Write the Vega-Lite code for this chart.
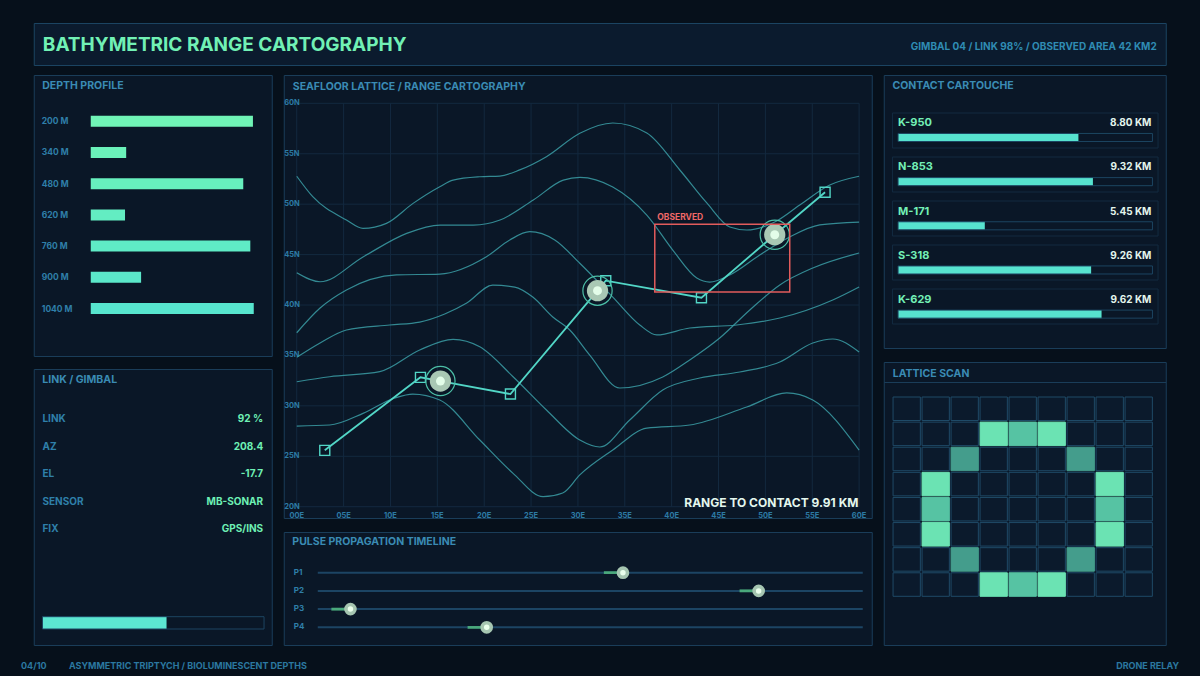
{
  "$schema": "https://vega.github.io/schema/vega-lite/v6.json",
  "background": "#06101b",
  "padding": {"left": 21, "top": 22, "right": 21, "bottom": 4},
  "spacing": 13,
  "center": true,
  "config": {
    "view": {"fill": "#0a1727", "stroke": "#1a3d59", "strokeWidth": 1},
    "font": "Inter",
    "title": {"anchor": "start", "frame": "group", "orient": "top", "baseline": "middle", "font": "Inter", "fontSize": 10.5, "fontWeight": "bold", "color": "#3a8bb4"},
    "axis": {"domain": false, "grid": false, "ticks": false, "labels": false, "title": null},
    "text": {"font": "Inter", "fontWeight": "bold"}
  },
  "datasets": {
    "header": [
      {"role": "title", "text": "BATHYMETRIC RANGE CARTOGRAPHY"},
      {"role": "meta", "text": "GIMBAL 04 / LINK 98% / OBSERVED AREA 42 KM2"}
    ],
    "footer": [
      {"slot": "page", "text": "04/10"},
      {"slot": "caption", "text": "ASYMMETRIC TRIPTYCH / BIOLUMINESCENT DEPTHS"},
      {"slot": "relay", "text": "DRONE RELAY"}
    ],
    "depth": [
      {"depth": "200 M", "level": 98.9},
      {"depth": "340 M", "level": 21.6},
      {"depth": "480 M", "level": 93.0},
      {"depth": "620 M", "level": 20.9},
      {"depth": "760 M", "level": 97.3},
      {"depth": "900 M", "level": 30.7},
      {"depth": "1040 M", "level": 99.4}
    ],
    "gimbal": [
      {"metric": "LINK", "reading": "92 %"},
      {"metric": "AZ", "reading": "208.4"},
      {"metric": "EL", "reading": "-17.7"},
      {"metric": "SENSOR", "reading": "MB-SONAR"},
      {"metric": "FIX", "reading": "GPS/INS"}
    ],
    "linkGauge": [{"gauge": "LINK", "level": 56}],
    "contacts": [
      {"id": "K-950", "range": "8.80 KM", "signal": 70.9},
      {"id": "N-853", "range": "9.32 KM", "signal": 76.6},
      {"id": "M-171", "range": "5.45 KM", "signal": 34.1},
      {"id": "S-318", "range": "9.26 KM", "signal": 75.9},
      {"id": "K-629", "range": "9.62 KM", "signal": 80.0}
    ],
    "pulses": [
      {"pulse": "P1", "start": 52.5, "t": 56.0},
      {"pulse": "P2", "start": 77.4, "t": 80.9},
      {"pulse": "P3", "start": 2.5, "t": 6.0},
      {"pulse": "P4", "start": 27.5, "t": 31.0}
    ],
    "lonGrid": [{"lon": 0, "tag": "00E"}, {"lon": 5, "tag": "05E"}, {"lon": 10, "tag": "10E"}, {"lon": 15, "tag": "15E"}, {"lon": 20, "tag": "20E"}, {"lon": 25, "tag": "25E"}, {"lon": 30, "tag": "30E"}, {"lon": 35, "tag": "35E"}, {"lon": 40, "tag": "40E"}, {"lon": 45, "tag": "45E"}, {"lon": 50, "tag": "50E"}, {"lon": 55, "tag": "55E"}, {"lon": 60, "tag": "60E"}],
    "latGrid": [{"lat": 20, "tag": "20N"}, {"lat": 25, "tag": "25N"}, {"lat": 30, "tag": "30N"}, {"lat": 35, "tag": "35N"}, {"lat": 40, "tag": "40N"}, {"lat": 45, "tag": "45N"}, {"lat": 50, "tag": "50N"}, {"lat": 55, "tag": "55N"}, {"lat": 60, "tag": "60N"}],
    "track": [
      {"seq": 1, "kind": "fix", "lon": 2.99, "lat": 25.59},
      {"seq": 2, "kind": "fix", "lon": 13.2, "lat": 32.83},
      {"seq": 3, "kind": "contact", "lon": 15.33, "lat": 32.46},
      {"seq": 4, "kind": "fix", "lon": 22.8, "lat": 31.17},
      {"seq": 5, "kind": "contact", "lon": 32.09, "lat": 41.42},
      {"seq": 6, "kind": "fix", "lon": 32.97, "lat": 42.41},
      {"seq": 7, "kind": "fix", "lon": 43.18, "lat": 40.72},
      {"seq": 8, "kind": "contact", "lon": 51.0, "lat": 46.97},
      {"seq": 9, "kind": "fix", "lon": 56.37, "lat": 51.18}
    ],
    "observed": [{"lon1": 38.2, "lon2": 52.6, "lat1": 41.3, "lat2": 48.0, "label": "OBSERVED"}],
    "rangeNote": [{"label": "RANGE TO CONTACT 9.91 KM"}],
    "contours": [
      {"curve": "c1", "lon": 0, "lat": 52.77}, {"curve": "c1", "lon": 1.71, "lat": 50.74}, {"curve": "c1", "lon": 5.3, "lat": 48.43}, {"curve": "c1", "lon": 7.07, "lat": 47.6}, {"curve": "c1", "lon": 9.57, "lat": 48.1}, {"curve": "c1", "lon": 12.41, "lat": 50.08}, {"curve": "c1", "lon": 15.26, "lat": 51.73}, {"curve": "c1", "lon": 16.68, "lat": 52.39}, {"curve": "c1", "lon": 19.53, "lat": 52.72}, {"curve": "c1", "lon": 21.66, "lat": 52.79}, {"curve": "c1", "lon": 23.79, "lat": 53.4}, {"curve": "c1", "lon": 26.64, "lat": 54.71}, {"curve": "c1", "lon": 30.2, "lat": 57.03}, {"curve": "c1", "lon": 33.72, "lat": 58.05}, {"curve": "c1", "lon": 37.35, "lat": 57.06}, {"curve": "c1", "lon": 40.87, "lat": 53.39}, {"curve": "c1", "lon": 43.75, "lat": 50.12}, {"curve": "c1", "lon": 46.2, "lat": 47.74}, {"curve": "c1", "lon": 48.02, "lat": 47.44}, {"curve": "c1", "lon": 51.0, "lat": 48.23}, {"curve": "c1", "lon": 53.67, "lat": 49.92}, {"curve": "c1", "lon": 56.87, "lat": 51.9}, {"curve": "c1", "lon": 60, "lat": 52.77},
      {"curve": "c2", "lon": 0, "lat": 43.2}, {"curve": "c2", "lon": 2.49, "lat": 42.31}, {"curve": "c2", "lon": 7.11, "lat": 44.79}, {"curve": "c2", "lon": 11.73, "lat": 47.11}, {"curve": "c2", "lon": 15.29, "lat": 47.93}, {"curve": "c2", "lon": 18.84, "lat": 47.93}, {"curve": "c2", "lon": 21.69, "lat": 48.43}, {"curve": "c2", "lon": 25.24, "lat": 50.41}, {"curve": "c2", "lon": 28.44, "lat": 52.39}, {"curve": "c2", "lon": 30.22, "lat": 52.66}, {"curve": "c2", "lon": 33.72, "lat": 51.7}, {"curve": "c2", "lon": 37.35, "lat": 48.92}, {"curve": "c2", "lon": 40.12, "lat": 45.45}, {"curve": "c2", "lon": 42.68, "lat": 42.68}, {"curve": "c2", "lon": 44.07, "lat": 42.28}, {"curve": "c2", "lon": 46.2, "lat": 42.98}, {"curve": "c2", "lon": 49.4, "lat": 44.96}, {"curve": "c2", "lon": 52.6, "lat": 46.75}, {"curve": "c2", "lon": 55.8, "lat": 47.94}, {"curve": "c2", "lon": 60, "lat": 48.23},
      {"curve": "c3", "lon": 0, "lat": 37.25}, {"curve": "c3", "lon": 2.49, "lat": 39.7}, {"curve": "c3", "lon": 5.3, "lat": 41.49}, {"curve": "c3", "lon": 10.64, "lat": 42.98}, {"curve": "c3", "lon": 15.26, "lat": 43.07}, {"curve": "c3", "lon": 20.24, "lat": 44.79}, {"curve": "c3", "lon": 22.73, "lat": 46.45}, {"curve": "c3", "lon": 24.86, "lat": 47.27}, {"curve": "c3", "lon": 27.53, "lat": 46.45}, {"curve": "c3", "lon": 30.2, "lat": 44.14}, {"curve": "c3", "lon": 33.72, "lat": 40.79}, {"curve": "c3", "lon": 36.6, "lat": 38.02}, {"curve": "c3", "lon": 38.41, "lat": 37.03}, {"curve": "c3", "lon": 41.93, "lat": 37.72}, {"curve": "c3", "lon": 46.95, "lat": 38.02}, {"curve": "c3", "lon": 51.54, "lat": 38.71}, {"curve": "c3", "lon": 57.19, "lat": 40.5}, {"curve": "c3", "lon": 60, "lat": 41.79},
      {"curve": "c4", "lon": 0, "lat": 34.81}, {"curve": "c4", "lon": 2.49, "lat": 36.23}, {"curve": "c4", "lon": 5.3, "lat": 37.52}, {"curve": "c4", "lon": 9.92, "lat": 38.02}, {"curve": "c4", "lon": 13.12, "lat": 38.31}, {"curve": "c4", "lon": 15.79, "lat": 39.11}, {"curve": "c4", "lon": 18.14, "lat": 40.2}, {"curve": "c4", "lon": 20.91, "lat": 41.98}, {"curve": "c4", "lon": 23.26, "lat": 41.78}, {"curve": "c4", "lon": 25.18, "lat": 40.79}, {"curve": "c4", "lon": 27.32, "lat": 38.81}, {"curve": "c4", "lon": 29.13, "lat": 37.52}, {"curve": "c4", "lon": 31.26, "lat": 35.04}, {"curve": "c4", "lon": 34.46, "lat": 31.77}, {"curve": "c4", "lon": 39.05, "lat": 32.86}, {"curve": "c4", "lon": 41.93, "lat": 34.55}, {"curve": "c4", "lon": 45.13, "lat": 36.73}, {"curve": "c4", "lon": 48.34, "lat": 39.51}, {"curve": "c4", "lon": 51.54, "lat": 41.99}, {"curve": "c4", "lon": 55.06, "lat": 43.67}, {"curve": "c4", "lon": 60, "lat": 45.16},
      {"curve": "c5", "lon": 0, "lat": 32.39}, {"curve": "c5", "lon": 3.52, "lat": 32.89}, {"curve": "c5", "lon": 8.86, "lat": 33.39}, {"curve": "c5", "lon": 13.12, "lat": 35.54}, {"curve": "c5", "lon": 16.68, "lat": 36.6}, {"curve": "c5", "lon": 19.53, "lat": 35.86}, {"curve": "c5", "lon": 23.08, "lat": 32.89}, {"curve": "c5", "lon": 26.64, "lat": 29.59}, {"curve": "c5", "lon": 30.2, "lat": 26.61}, {"curve": "c5", "lon": 32.33, "lat": 25.92}, {"curve": "c5", "lon": 35.53, "lat": 28.6}, {"curve": "c5", "lon": 39.05, "lat": 31.57}, {"curve": "c5", "lon": 43.0, "lat": 32.76}, {"curve": "c5", "lon": 47.27, "lat": 33.36}, {"curve": "c5", "lon": 51.54, "lat": 34.35}, {"curve": "c5", "lon": 55.06, "lat": 36.23}, {"curve": "c5", "lon": 57.19, "lat": 36.63}, {"curve": "c5", "lon": 60, "lat": 35.34},
      {"curve": "c6", "lon": 0, "lat": 28.0}, {"curve": "c6", "lon": 3.52, "lat": 28.1}, {"curve": "c6", "lon": 7.07, "lat": 29.26}, {"curve": "c6", "lon": 10.46, "lat": 30.78}, {"curve": "c6", "lon": 12.38, "lat": 31.17}, {"curve": "c6", "lon": 15.26, "lat": 30.58}, {"curve": "c6", "lon": 19.53, "lat": 26.61}, {"curve": "c6", "lon": 23.08, "lat": 23.31}, {"curve": "c6", "lon": 26.28, "lat": 20.99}, {"curve": "c6", "lon": 28.38, "lat": 21.36}, {"curve": "c6", "lon": 30.2, "lat": 23.15}, {"curve": "c6", "lon": 33.72, "lat": 25.62}, {"curve": "c6", "lon": 37.35, "lat": 27.8}, {"curve": "c6", "lon": 41.93, "lat": 28.1}, {"curve": "c6", "lon": 48.01, "lat": 29.89}, {"curve": "c6", "lon": 52.28, "lat": 31.28}, {"curve": "c6", "lon": 55.06, "lat": 30.58}, {"curve": "c6", "lon": 60, "lat": 25.62}
    ],
    "lattice": [
      {"r": 0, "c": 0, "v": 0}, {"r": 0, "c": 1, "v": 0}, {"r": 0, "c": 2, "v": 0}, {"r": 0, "c": 3, "v": 0}, {"r": 0, "c": 4, "v": 0}, {"r": 0, "c": 5, "v": 0}, {"r": 0, "c": 6, "v": 0}, {"r": 0, "c": 7, "v": 0}, {"r": 0, "c": 8, "v": 0},
      {"r": 1, "c": 0, "v": 0}, {"r": 1, "c": 1, "v": 0}, {"r": 1, "c": 2, "v": 0}, {"r": 1, "c": 3, "v": 3}, {"r": 1, "c": 4, "v": 2}, {"r": 1, "c": 5, "v": 3}, {"r": 1, "c": 6, "v": 0}, {"r": 1, "c": 7, "v": 0}, {"r": 1, "c": 8, "v": 0},
      {"r": 2, "c": 0, "v": 0}, {"r": 2, "c": 1, "v": 0}, {"r": 2, "c": 2, "v": 1}, {"r": 2, "c": 3, "v": 0}, {"r": 2, "c": 4, "v": 0}, {"r": 2, "c": 5, "v": 0}, {"r": 2, "c": 6, "v": 1}, {"r": 2, "c": 7, "v": 0}, {"r": 2, "c": 8, "v": 0},
      {"r": 3, "c": 0, "v": 0}, {"r": 3, "c": 1, "v": 3}, {"r": 3, "c": 2, "v": 0}, {"r": 3, "c": 3, "v": 0}, {"r": 3, "c": 4, "v": 0}, {"r": 3, "c": 5, "v": 0}, {"r": 3, "c": 6, "v": 0}, {"r": 3, "c": 7, "v": 3}, {"r": 3, "c": 8, "v": 0},
      {"r": 4, "c": 0, "v": 0}, {"r": 4, "c": 1, "v": 2}, {"r": 4, "c": 2, "v": 0}, {"r": 4, "c": 3, "v": 0}, {"r": 4, "c": 4, "v": 0}, {"r": 4, "c": 5, "v": 0}, {"r": 4, "c": 6, "v": 0}, {"r": 4, "c": 7, "v": 2}, {"r": 4, "c": 8, "v": 0},
      {"r": 5, "c": 0, "v": 0}, {"r": 5, "c": 1, "v": 3}, {"r": 5, "c": 2, "v": 0}, {"r": 5, "c": 3, "v": 0}, {"r": 5, "c": 4, "v": 0}, {"r": 5, "c": 5, "v": 0}, {"r": 5, "c": 6, "v": 0}, {"r": 5, "c": 7, "v": 3}, {"r": 5, "c": 8, "v": 0},
      {"r": 6, "c": 0, "v": 0}, {"r": 6, "c": 1, "v": 0}, {"r": 6, "c": 2, "v": 1}, {"r": 6, "c": 3, "v": 0}, {"r": 6, "c": 4, "v": 0}, {"r": 6, "c": 5, "v": 0}, {"r": 6, "c": 6, "v": 1}, {"r": 6, "c": 7, "v": 0}, {"r": 6, "c": 8, "v": 0},
      {"r": 7, "c": 0, "v": 0}, {"r": 7, "c": 1, "v": 0}, {"r": 7, "c": 2, "v": 0}, {"r": 7, "c": 3, "v": 3}, {"r": 7, "c": 4, "v": 2}, {"r": 7, "c": 5, "v": 3}, {"r": 7, "c": 6, "v": 0}, {"r": 7, "c": 7, "v": 0}, {"r": 7, "c": 8, "v": 0}
    ]
  },
  "vconcat": [
    {
      "spacing": 8,
      "vconcat": [
        {
          "width": 1132,
          "height": 42,
          "view": {"fill": "#0b1b2e", "stroke": "#1b4462"},
          "data": {"name": "header"},
          "layer": [
            {
              "transform": [{"filter": "datum.role == 'title'"}],
              "mark": {"type": "text", "align": "left", "baseline": "middle", "fontSize": 19, "fill": "#71f1b5", "dy": 1},
              "encoding": {
                "x": {"datum": 0.8, "type": "quantitative", "scale": {"domain": [0, 100], "nice": false, "zero": false}, "axis": null},
                "text": {"field": "text"}
              }
            },
            {
              "transform": [{"filter": "datum.role == 'meta'"}],
              "mark": {"type": "text", "align": "right", "baseline": "middle", "fontSize": 10, "fill": "#2f8cb3", "dy": 3},
              "encoding": {
                "x": {"datum": 99.2, "type": "quantitative", "axis": null},
                "text": {"field": "text"}
              }
            }
          ]
        },
        {
          "spacing": 10,
          "hconcat": [
            {
              "spacing": 13,
              "bounds": "flush",
              "vconcat": [
                {
                  "width": 238,
                  "height": 281,
                  "title": {"text": "DEPTH PROFILE", "offset": -16, "dx": 8.5},
                  "data": {"name": "depth"},
                  "layer": [
                    {
                      "mark": {"type": "bar", "height": 11},
                      "encoding": {
                        "y": {"field": "depth", "type": "nominal", "sort": null, "axis": null, "scale": {"type": "band", "paddingInner": 0, "paddingOuter": 1, "align": 0.49}},
                        "x": {"field": "level", "type": "quantitative", "scale": {"domain": [-34.76, 110.37], "nice": false, "zero": false}, "axis": {"orient": "top", "offset": -19, "domain": true, "domainColor": "#1a3d59", "domainWidth": 1, "title": null}},
                        "x2": {"datum": 0},
                        "color": {"field": "depth", "type": "nominal", "sort": null, "legend": null, "scale": {"range": ["#70f4b6", "#6bf2ba", "#67f0be", "#63edc2", "#5febc6", "#5be8ca", "#57e5ce"]}}
                      }
                    },
                    {
                      "mark": {"type": "text", "align": "left", "baseline": "middle", "fontSize": 8.5, "fill": "#2f7fa9"},
                      "encoding": {
                        "y": {"field": "depth", "type": "nominal", "sort": null, "axis": null},
                        "x": {"datum": -29.9, "type": "quantitative", "axis": null},
                        "text": {"field": "depth"}
                      }
                    }
                  ]
                },
                {
                  "width": 238,
                  "height": 276,
                  "title": {"text": "LINK / GIMBAL", "offset": -16, "dx": 8.5},
                  "resolve": {"scale": {"y": "independent"}},
                  "layer": [
                    {
                      "data": {"name": "linkGauge"},
                      "mark": {"type": "bar", "fill": "#5ce6d2"},
                      "encoding": {
                        "y": {"field": "gauge", "type": "nominal", "axis": null, "scale": {"type": "band", "range": [247.7, 260], "paddingInner": 0, "paddingOuter": 0}},
                        "x": {"field": "level", "type": "quantitative", "scale": {"domain": [-3.93, 103.48], "nice": false, "zero": false}, "axis": {"orient": "top", "offset": -20, "domain": true, "domainColor": "#1a3d59", "title": null}},
                        "x2": {"datum": 0}
                      }
                    },
                    {
                      "data": {"name": "linkGauge"},
                      "mark": {"type": "bar", "fill": "#081525", "fillOpacity": 0, "stroke": "#1d4562", "strokeWidth": 1},
                      "encoding": {
                        "y": {"field": "gauge", "type": "nominal", "axis": null, "scale": {"type": "band", "range": [247.7, 260], "paddingInner": 0, "paddingOuter": 0}},
                        "x": {"datum": 0, "type": "quantitative", "axis": null},
                        "x2": {"datum": 100}
                      }
                    },
                    {
                      "data": {"name": "gimbal"},
                      "mark": {"type": "text", "align": "left", "baseline": "middle", "fontSize": 10, "fill": "#2f80aa"},
                      "encoding": {
                        "y": {"field": "metric", "type": "nominal", "sort": null, "axis": null, "scale": {"type": "point", "range": [50.3, 160], "padding": 0}},
                        "x": {"datum": 0, "type": "quantitative", "axis": null},
                        "text": {"field": "metric"}
                      }
                    },
                    {
                      "data": {"name": "gimbal"},
                      "mark": {"type": "text", "align": "right", "baseline": "middle", "fontSize": 10, "fill": "#6ef0b5"},
                      "encoding": {
                        "y": {"field": "metric", "type": "nominal", "sort": null, "axis": null, "scale": {"type": "point", "range": [50.3, 160], "padding": 0}},
                        "x": {"datum": 99.6, "type": "quantitative", "axis": null},
                        "text": {"field": "reading"}
                      }
                    }
                  ]
                }
              ]
            },
            {
              "spacing": 14,
              "bounds": "flush",
              "vconcat": [
                {
                  "width": 588,
                  "height": 443,
                  "title": {"text": "SEAFLOOR LATTICE / RANGE CARTOGRAPHY", "offset": -17, "dx": 9},
                  "layer": [
                    {
                      "data": {"name": "latGrid"},
                      "mark": {"type": "rule", "stroke": "#13293f", "strokeWidth": 1},
                      "encoding": {
                        "y": {"field": "lat", "type": "quantitative", "scale": {"domain": [18.88, 62.81], "nice": false, "zero": false}, "axis": null},
                        "x": {"datum": 0, "type": "quantitative", "scale": {"domain": [-1.387, 61.35], "nice": false, "zero": false}, "axis": null},
                        "x2": {"datum": 60}
                      }
                    },
                    {
                      "data": {"name": "lonGrid"},
                      "mark": {"type": "rule", "stroke": "#13293f", "strokeWidth": 1},
                      "encoding": {
                        "x": {"field": "lon", "type": "quantitative", "axis": null},
                        "y": {"datum": 20, "type": "quantitative", "axis": null},
                        "y2": {"datum": 60}
                      }
                    },
                    {
                      "data": {"name": "latGrid"},
                      "mark": {"type": "text", "align": "left", "baseline": "middle", "fontSize": 7.5, "fill": "#2d7ba5"},
                      "encoding": {
                        "y": {"field": "lat", "type": "quantitative", "axis": null},
                        "x": {"datum": -1.34, "type": "quantitative", "axis": null},
                        "text": {"field": "tag"}
                      }
                    },
                    {
                      "data": {"name": "lonGrid"},
                      "mark": {"type": "text", "align": "center", "baseline": "middle", "fontSize": 7.5, "fill": "#2d7ba5"},
                      "encoding": {
                        "x": {"field": "lon", "type": "quantitative", "axis": null},
                        "y": {"datum": 19.1, "type": "quantitative", "axis": null},
                        "text": {"field": "tag"}
                      }
                    },
                    {
                      "data": {"name": "contours"},
                      "mark": {"type": "line", "interpolate": "monotone", "stroke": "#3b9ea6", "strokeWidth": 1.2, "opacity": 0.85},
                      "encoding": {
                        "x": {"field": "lon", "type": "quantitative", "axis": null},
                        "y": {"field": "lat", "type": "quantitative", "axis": null},
                        "detail": {"field": "curve"}
                      }
                    },
                    {
                      "data": {"name": "track"},
                      "mark": {"type": "line", "stroke": "#52d6c6", "strokeWidth": 1.8},
                      "encoding": {
                        "x": {"field": "lon", "type": "quantitative", "axis": null},
                        "y": {"field": "lat", "type": "quantitative", "axis": null},
                        "order": {"field": "seq"}
                      }
                    },
                    {
                      "data": {"name": "track"},
                      "transform": [{"filter": "datum.kind == 'fix'"}],
                      "mark": {"type": "point", "shape": "square", "filled": false, "size": 100, "color": "#52d6c6", "strokeWidth": 1.4, "opacity": 1},
                      "encoding": {
                        "x": {"field": "lon", "type": "quantitative", "axis": null},
                        "y": {"field": "lat", "type": "quantitative", "axis": null}
                      }
                    },
                    {
                      "data": {"name": "track"},
                      "transform": [{"filter": "datum.kind == 'contact'"}],
                      "mark": {"type": "point", "shape": "circle", "filled": false, "size": 855, "color": "#4cbfa7", "strokeWidth": 1.2, "opacity": 1},
                      "encoding": {
                        "x": {"field": "lon", "type": "quantitative", "axis": null},
                        "y": {"field": "lat", "type": "quantitative", "axis": null}
                      }
                    },
                    {
                      "data": {"name": "track"},
                      "transform": [{"filter": "datum.kind == 'contact'"}],
                      "mark": {"type": "point", "shape": "circle", "filled": true, "size": 452, "color": "#a9c8b4", "opacity": 1},
                      "encoding": {
                        "x": {"field": "lon", "type": "quantitative", "axis": null},
                        "y": {"field": "lat", "type": "quantitative", "axis": null}
                      }
                    },
                    {
                      "data": {"name": "track"},
                      "transform": [{"filter": "datum.kind == 'contact'"}],
                      "mark": {"type": "point", "shape": "circle", "filled": true, "size": 80, "color": "#e3fde9", "opacity": 1},
                      "encoding": {
                        "x": {"field": "lon", "type": "quantitative", "axis": null},
                        "y": {"field": "lat", "type": "quantitative", "axis": null}
                      }
                    },
                    {
                      "data": {"name": "observed"},
                      "mark": {"type": "rect", "fill": "#000000", "fillOpacity": 0, "stroke": "#e25c5c", "strokeWidth": 1.5},
                      "encoding": {
                        "x": {"field": "lon1", "type": "quantitative", "axis": null},
                        "x2": {"field": "lon2"},
                        "y": {"field": "lat1", "type": "quantitative", "axis": null},
                        "y2": {"field": "lat2"}
                      }
                    },
                    {
                      "data": {"name": "observed"},
                      "mark": {"type": "text", "align": "left", "baseline": "middle", "fontSize": 8.5, "fill": "#f06868", "dx": 2.5, "dy": -7.6},
                      "encoding": {
                        "x": {"field": "lon1", "type": "quantitative", "axis": null},
                        "y": {"field": "lat2", "type": "quantitative", "axis": null},
                        "text": {"field": "label"}
                      }
                    },
                    {
                      "data": {"name": "rangeNote"},
                      "mark": {"type": "text", "align": "right", "baseline": "middle", "fontSize": 12, "fill": "#e4f7ee"},
                      "encoding": {
                        "x": {"datum": 59.93, "type": "quantitative", "axis": null},
                        "y": {"datum": 20.33, "type": "quantitative", "axis": null},
                        "text": {"field": "label"}
                      }
                    }
                  ]
                },
                {
                  "width": 588,
                  "height": 113,
                  "title": {"text": "PULSE PROPAGATION TIMELINE", "offset": -15.7, "dx": 8.6},
                  "data": {"name": "pulses"},
                  "layer": [
                    {
                      "mark": {"type": "rule", "stroke": "#4aa97c", "strokeWidth": 2.5},
                      "encoding": {
                        "y": {"field": "pulse", "type": "nominal", "sort": null, "axis": null, "scale": {"type": "point", "range": [40.7, 95.3], "padding": 0}},
                        "x": {"field": "start", "type": "quantitative", "scale": {"domain": [-6.24, 101.65], "nice": false, "zero": false}, "axis": {"orient": "top", "offset": -19, "domain": true, "domainColor": "#1a3d59", "title": null}},
                        "x2": {"field": "t"}
                      }
                    },
                    {
                      "mark": {"type": "rule", "stroke": "#1c4564", "strokeWidth": 2},
                      "encoding": {
                        "y": {"field": "pulse", "type": "nominal", "sort": null, "axis": null},
                        "x": {"datum": 0, "type": "quantitative", "axis": null},
                        "x2": {"datum": 100}
                      }
                    },
                    {
                      "mark": {"type": "rule", "stroke": "#4aa97c", "strokeWidth": 2.5},
                      "encoding": {
                        "y": {"field": "pulse", "type": "nominal", "sort": null, "axis": null},
                        "x": {"field": "start", "type": "quantitative", "axis": null},
                        "x2": {"field": "t"}
                      }
                    },
                    {
                      "mark": {"type": "point", "shape": "circle", "filled": true, "size": 160, "color": "#a6c6b1", "opacity": 1},
                      "encoding": {
                        "y": {"field": "pulse", "type": "nominal", "sort": null, "axis": null},
                        "x": {"field": "t", "type": "quantitative", "axis": null}
                      }
                    },
                    {
                      "mark": {"type": "point", "shape": "circle", "filled": true, "size": 30, "color": "#eaffec", "opacity": 1},
                      "encoding": {
                        "y": {"field": "pulse", "type": "nominal", "sort": null, "axis": null},
                        "x": {"field": "t", "type": "quantitative", "axis": null}
                      }
                    },
                    {
                      "mark": {"type": "text", "align": "left", "baseline": "middle", "fontSize": 8, "fill": "#2f7fa9"},
                      "encoding": {
                        "y": {"field": "pulse", "type": "nominal", "sort": null, "axis": null},
                        "x": {"datum": -4.4, "type": "quantitative", "axis": null},
                        "text": {"field": "pulse"}
                      }
                    }
                  ]
                }
              ]
            },
            {
              "spacing": 14,
              "bounds": "flush",
              "vconcat": [
                {
                  "width": 282,
                  "height": 273,
                  "title": {"text": "CONTACT CARTOUCHE", "offset": -16, "dx": 8.7},
                  "data": {"name": "contacts"},
                  "resolve": {"scale": {"y": "independent"}},
                  "layer": [
                    {
                      "mark": {"type": "bar", "fill": "#57e3cf"},
                      "encoding": {
                        "y": {"field": "id", "type": "nominal", "sort": null, "axis": null, "scale": {"type": "band", "paddingInner": 0.8176, "paddingOuter": 1, "align": 0.662}},
                        "x": {"field": "signal", "type": "quantitative", "scale": {"domain": [-5.62, 105.23], "nice": false, "zero": false}, "axis": {"orient": "top", "offset": -19.3, "domain": true, "domainColor": "#1a3d59", "title": null}},
                        "x2": {"datum": 0}
                      }
                    },
                    {
                      "mark": {"type": "bar", "fill": "#081524", "fillOpacity": 0, "stroke": "#1c4561", "strokeWidth": 1},
                      "encoding": {
                        "y": {"field": "id", "type": "nominal", "sort": null, "axis": null, "scale": {"type": "band", "paddingInner": 0.8176, "paddingOuter": 1, "align": 0.662}},
                        "x": {"datum": 0, "type": "quantitative", "axis": null},
                        "x2": {"datum": 100}
                      }
                    },
                    {
                      "mark": {"type": "bar", "fill": "#0c1b2d", "fillOpacity": 0, "stroke": "#132b41", "strokeWidth": 1},
                      "encoding": {
                        "y": {"field": "id", "type": "nominal", "sort": null, "axis": null, "scale": {"type": "band", "paddingInner": 0.2045, "paddingOuter": 0.7045, "align": 0.613}},
                        "x": {"datum": -2.2, "type": "quantitative", "axis": null},
                        "x2": {"datum": 102.2}
                      }
                    },
                    {
                      "mark": {"type": "text", "align": "left", "baseline": "middle", "fontSize": 11, "fill": "#73efb6", "dy": -14.2},
                      "encoding": {
                        "y": {"field": "id", "type": "nominal", "sort": null, "axis": null, "scale": {"type": "band", "paddingInner": 0.8176, "paddingOuter": 1, "align": 0.662}},
                        "x": {"datum": 0, "type": "quantitative", "axis": null},
                        "text": {"field": "id"}
                      }
                    },
                    {
                      "mark": {"type": "text", "align": "right", "baseline": "middle", "fontSize": 10, "fill": "#e3f5ed", "dy": -14.2},
                      "encoding": {
                        "y": {"field": "id", "type": "nominal", "sort": null, "axis": null, "scale": {"type": "band", "paddingInner": 0.8176, "paddingOuter": 1, "align": 0.662}},
                        "x": {"datum": 99.6, "type": "quantitative", "axis": null},
                        "text": {"field": "range"}
                      }
                    }
                  ]
                },
                {
                  "width": 282,
                  "height": 283,
                  "title": {"text": "LATTICE SCAN", "offset": -17, "dx": 9},
                  "data": {"name": "lattice"},
                  "mark": {"type": "rect", "strokeWidth": 1},
                  "encoding": {
                    "x": {"field": "c", "type": "ordinal", "axis": {"orient": "top", "offset": -20, "domain": true, "domainColor": "#1a3d59", "title": null}, "scale": {"type": "band", "paddingInner": 0.0586, "paddingOuter": 0.391, "align": 0.41}},
                    "y": {"field": "r", "type": "ordinal", "axis": null, "scale": {"type": "band", "range": [35, 234.3], "paddingInner": 0.064, "paddingOuter": 0}},
                    "fill": {"field": "v", "type": "ordinal", "legend": null, "scale": {"domain": [0, 1, 2, 3], "range": ["#0b1a2c", "#449d8c", "#56c3a3", "#6be3b3"]}},
                    "stroke": {"field": "v", "type": "ordinal", "legend": null, "scale": {"domain": [0, 1, 2, 3], "range": ["#1f4a67", "#449d8c", "#56c3a3", "#6be3b3"]}}
                  }
                }
              ]
            }
          ]
        }
      ]
    },
    {
      "width": 1158,
      "height": 14,
      "view": {"fill": null, "stroke": null},
      "data": {"name": "footer"},
      "layer": [
        {
          "transform": [{"filter": "datum.slot == 'page'"}],
          "mark": {"type": "text", "align": "left", "baseline": "middle", "fontSize": 9, "fill": "#2b78a0"},
          "encoding": {
            "x": {"datum": 0, "type": "quantitative", "scale": {"domain": [0, 100], "nice": false, "zero": false}, "axis": null},
            "text": {"field": "text"}
          }
        },
        {
          "transform": [{"filter": "datum.slot == 'caption'"}],
          "mark": {"type": "text", "align": "left", "baseline": "middle", "fontSize": 9, "fill": "#2b78a0"},
          "encoding": {
            "x": {"datum": 4.145, "type": "quantitative", "axis": null},
            "text": {"field": "text"}
          }
        },
        {
          "transform": [{"filter": "datum.slot == 'relay'"}],
          "mark": {"type": "text", "align": "right", "baseline": "middle", "fontSize": 9, "fill": "#2b78a0"},
          "encoding": {
            "x": {"datum": 100, "type": "quantitative", "axis": null},
            "text": {"field": "text"}
          }
        }
      ]
    }
  ]
}
